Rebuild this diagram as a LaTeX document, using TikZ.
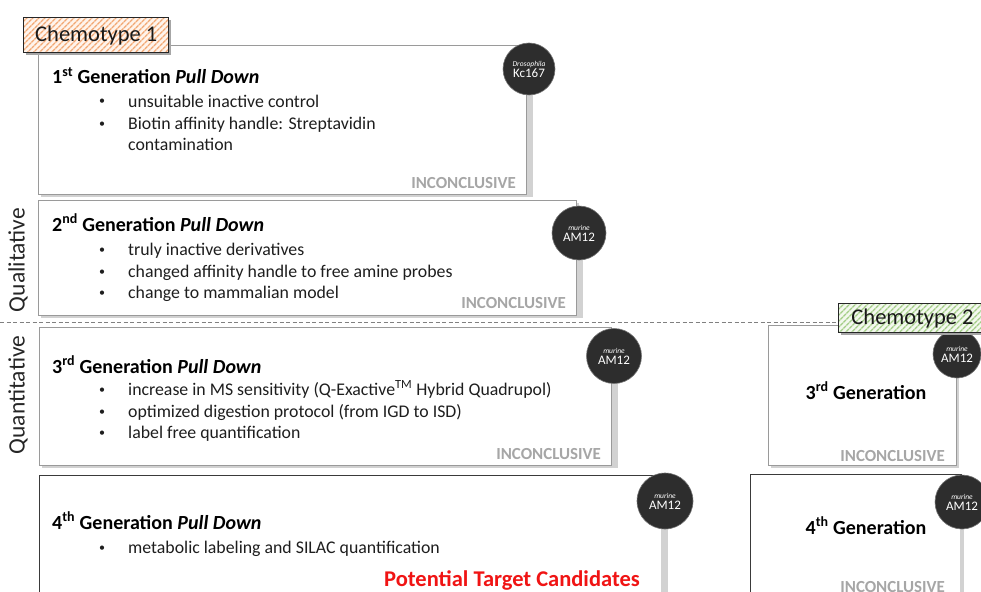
\documentclass[tikz,border=0pt]{standalone}
\usepackage{fontspec}
\setmainfont{Carlito}
\usetikzlibrary{patterns.meta,shadows}
\definecolor{boxc}{HTML}{9A9A9A}
\definecolor{darkbox}{HTML}{3A3A3A}
\definecolor{circ}{HTML}{2D2D2D}
\definecolor{barc}{HTML}{D2D2D2}
\definecolor{inc}{HTML}{A6A6A6}
\definecolor{redt}{HTML}{F01414}
\definecolor{orstripe}{HTML}{F2A874}
\definecolor{orbg}{HTML}{FFF4EC}
\definecolor{grstripe}{HTML}{A3CD86}
\definecolor{grbg}{HTML}{F3F8EE}
\definecolor{txt}{HTML}{1E1E1E}
\begin{document}
\begin{tikzpicture}[x=1pt,y=-1pt,
  box/.style={draw=boxc, line width=0.9pt, fill=white, inner sep=0pt, anchor=north west,
    drop shadow={shadow xshift=2.5pt, shadow yshift=-2.5pt, fill=black!18, opacity=1}},
  dbox/.style={box, draw=darkbox},
  badge/.style={circle, fill=circ, draw=black!55, line width=0.6pt, inner sep=0pt, text=white, align=center},
  ttl/.style={anchor=base west, inner sep=0pt, text=black, font=\fontsize{20}{24}\selectfont\bfseries},
  bod/.style={anchor=base west, inner sep=0pt, text=txt, font=\fontsize{17.8}{21.5}\selectfont},
  bul/.style={anchor=base west, inner sep=0pt, text=txt, font=\fontsize{12}{14}\selectfont},
  incl/.style={anchor=base east, inner sep=0pt, text=inc, font=\fontsize{16.9}{20}\selectfont\bfseries},
  side/.style={rotate=90, inner sep=0pt, text=black!85, font=\fontsize{23.5}{26}\selectfont},
  chem/.style={draw=black!85, line width=1pt, inner sep=0pt, anchor=north west,
    font=\fontsize{22.5}{26}\selectfont, text=black!90,
    drop shadow={shadow xshift=2pt, shadow yshift=-2pt, fill=black!35, opacity=1}},
  bar/.style={fill=barc}
]
\useasboundingbox (0,0) rectangle (981,591);

% ---------- Box 1 ----------
\node[box, minimum width=488pt, minimum height=149pt] (b1) at (38,45) {};
\fill[bar] ([xshift=0.5pt]b1.east |- 529,69) rectangle ([xshift=6pt,yshift=-2.5pt]b1.south east);
\node[badge, minimum size=52pt] (c1) at (529,69) {{\fontsize{7.5}{8}\selectfont\itshape Drosophila}\\[-1pt]{\fontsize{13}{15}\selectfont Kc167}};
\node[chem, minimum width=145pt, minimum height=35pt,
  preaction={fill=orbg}, pattern={Lines[angle=45,distance=4pt,line width=1.5pt]}, pattern color=orstripe] (ch1) at (23,17) {Chemotype 1};
\node[ttl] (t1) at (52,84) {1\textsuperscript{st} Generation \textit{Pull Down}};
\node[bul] (u11) at (99,105) {•};
\node[bod] (l11) at (128,107) {unsuitable inactive control};
\node[bul] (u12) at (99,127) {•};
\node[bod] (l12) at (128,129) {Biotin affinity handle: Streptavidin};
\node[bod] (l13) at (128,150) {contamination};
\node[incl] (i1) at (516,188) {INCONCLUSIVE};

% ---------- Box 2 ----------
\node[box, minimum width=538pt, minimum height=115pt] (b2) at (38,200) {};
\fill[bar] ([xshift=0.5pt]b2.east |- 579,233) rectangle ([xshift=6pt,yshift=-2.5pt]b2.south east);
\node[badge, minimum size=54pt] (c2) at (579,233) {{\fontsize{7.5}{8}\selectfont\itshape murine}\\[-1pt]{\fontsize{13}{15}\selectfont AM12}};
\node[ttl] (t2) at (52,231) {2\textsuperscript{nd} Generation \textit{Pull Down}};
\node[bul] (u21) at (99,253) {•};
\node[bod] (l21) at (128,255) {truly inactive derivatives};
\node[bul] (u22) at (99,275) {•};
\node[bod] (l22) at (128,277) {changed affinity handle to free amine probes};
\node[bul] (u23) at (99,296) {•};
\node[bod] (l23) at (128,298) {change to mammalian model};
\node[incl] (i2) at (566,308) {INCONCLUSIVE};

% ---------- divider and side labels ----------
\coordinate (dl) at (0,322);
\coordinate (dr) at (842,322);
\draw[gray, line width=0.9pt, dash pattern=on 4pt off 2.5pt] (dl) -- (dr);
\node[side] (q1) at (18,260) {Qualitative};
\node[side] (q2) at (18,395) {Quantitative};

% ---------- Box 3 ----------
\node[box, minimum width=572pt, minimum height=138pt] (b3) at (39,327) {};
\fill[bar] ([xshift=0.5pt]b3.east |- 614,356) rectangle ([xshift=6pt,yshift=-2.5pt]b3.south east);
\node[badge, minimum size=55pt] (c3) at (614,356) {{\fontsize{7.5}{8}\selectfont\itshape murine}\\[-1pt]{\fontsize{13}{15}\selectfont AM12}};
\node[ttl] (t3) at (52,373) {3\textsuperscript{rd} Generation \textit{Pull Down}};
\node[bul] (u31) at (99,393) {•};
\node[bod] (l31) at (128,395) {increase in MS sensitivity (Q-Exactive\textsuperscript{TM} Hybrid Quadrupol)};
\node[bul] (u32) at (99,415) {•};
\node[bod] (l32) at (128,417) {optimized digestion protocol (from IGD to ISD)};
\node[bul] (u33) at (99,436) {•};
\node[bod] (l33) at (128,438) {label free quantification};
\node[incl] (i3) at (601,459) {INCONCLUSIVE};

% ---------- Box 4 ----------
\node[dbox, minimum width=623pt, minimum height=140pt] (b4) at (39,475) {};
\fill[bar] (661,501) rectangle (668,600);
\node[badge, minimum size=56pt] (c4) at (665,501) {{\fontsize{7.5}{8}\selectfont\itshape murine}\\[-1pt]{\fontsize{13}{15}\selectfont AM12}};
\node[ttl] (t4) at (52,529) {4\textsuperscript{th} Generation \textit{Pull Down}};
\node[bul] (u41) at (99,551) {•};
\node[bod] (l41) at (128,553) {metabolic labeling and SILAC quantification};
\node[anchor=base east, inner sep=0pt, text=redt, font=\fontsize{22.5}{26}\selectfont\bfseries] (ptc) at (640,586) {Potential Target Candidates};

% ---------- Chemotype 2 column ----------
\node[box, minimum width=188pt, minimum height=140pt] (b5) at (768,325) {};
\node[badge, minimum size=48pt] (c5) at (957,354) {{\fontsize{7.5}{8}\selectfont\itshape murine}\\[-1pt]{\fontsize{13}{15}\selectfont AM12}};
\node[ttl, anchor=base] (t5) at (866,399) {3\textsuperscript{rd} Generation};
\node[incl] (i5) at (945,461) {INCONCLUSIVE};

\node[dbox, minimum width=211pt, minimum height=140pt] (b6) at (750,474) {};
\fill[bar] (960,502) rectangle (964,600);
\node[badge, minimum size=54pt] (c6) at (962,502) {{\fontsize{7.5}{8}\selectfont\itshape murine}\\[-1pt]{\fontsize{13}{15}\selectfont AM12}};
\node[ttl, anchor=base] (t6) at (866,534) {4\textsuperscript{th} Generation};
\node[incl] (i6) at (945,592) {INCONCLUSIVE};

\node[chem, minimum width=160pt, minimum height=29pt,
  preaction={fill=grbg}, pattern={Lines[angle=45,distance=4pt,line width=1.5pt]}, pattern color=grstripe] (ch2) at (838,303) {\hspace*{-12pt}Chemotype 2};
\end{tikzpicture}
\end{document}
